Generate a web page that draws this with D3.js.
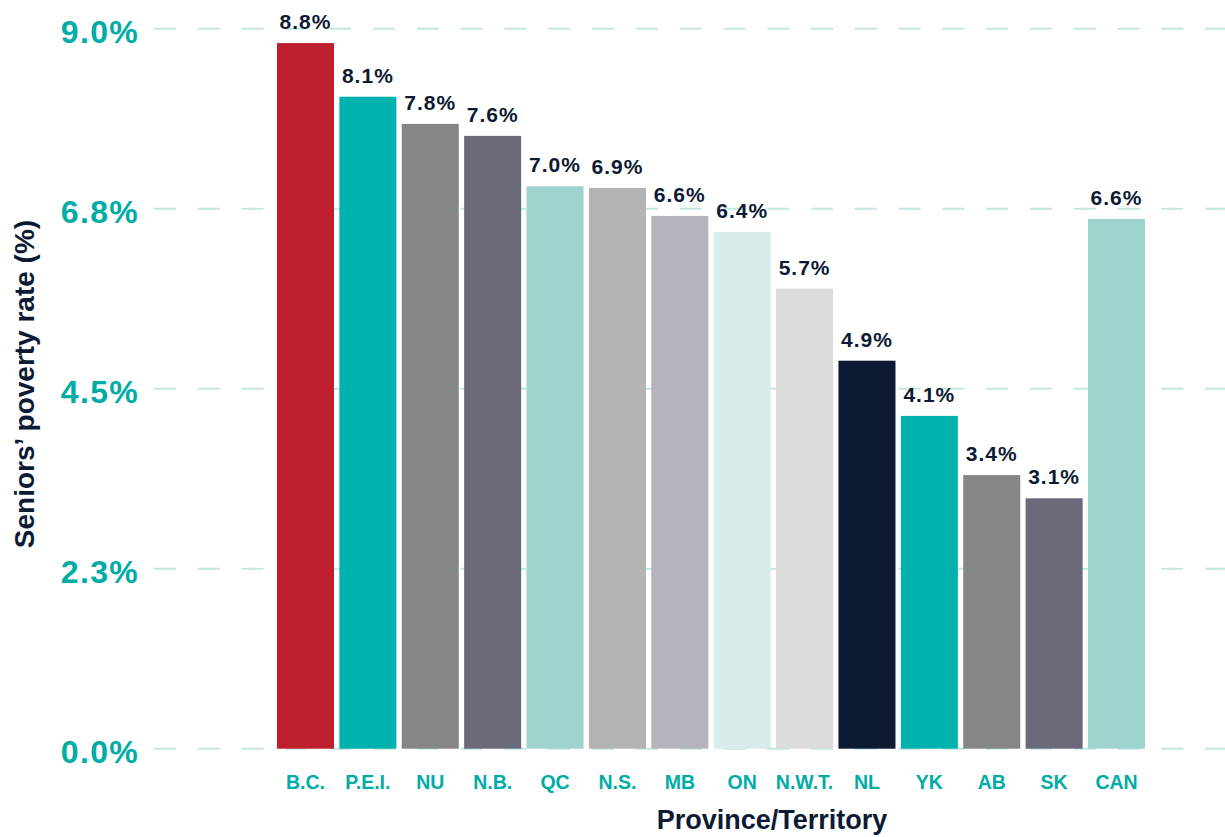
<!DOCTYPE html>
<html lang="en">
<head>
    <meta charset="UTF-8">
    <title>Seniors' poverty rate by province</title>
    <script type="text/javascript" src="https://cdn.jsdelivr.net/npm/d3@7"></script>
    <style type="text/css">
        body { margin: 0; background: #ffffff; }
        text { font-family: "Liberation Sans", Arial, sans-serif; font-weight: bold; }
    </style>
</head>
<body>
<script type="text/javascript">

    //Width and height
    var w = 1225;
    var h = 837;

    // data
    var provinces = ["B.C.", "P.E.I.", "NU", "N.B.", "QC", "N.S.", "MB", "ON",
        "N.W.T.", "NL", "YK", "AB", "SK", "CAN"];
    var rates = [8.82, 8.15, 7.81, 7.66, 7.03, 7.01, 6.66, 6.46,
        5.75, 4.85, 4.16, 3.42, 3.13, 6.62];
    var rateLabels = ["8.8%", "8.1%", "7.8%", "7.6%", "7.0%", "6.9%", "6.6%", "6.4%",
        "5.7%", "4.9%", "4.1%", "3.4%", "3.1%", "6.6%"];
    var barColors = ["#be1e2d", "#00b2ae", "#858688", "#6b6a7a", "#9ed3ce", "#b3b3b3",
        "#b5b4bd", "#d8edeb", "#dcdcdc", "#0c1a33", "#00b2ae", "#858688", "#6b6a7a", "#9ed3ce"];
    var yTicks = [0, 2.25, 4.5, 6.75, 9];

    var teal = "#00aca6";
    var navy = "#0c1a33";

    //Create SVG element
    var svg = d3.select("body")
        .append("svg")
        .attr("width", w)
        .attr("height", h);

    var x = d3.scaleBand()
        .domain(provinces)
        .range([274.3, 1147.7])
        .paddingInner(0.086)
        .paddingOuter(0.043);

    var y = d3.scaleLinear()
        .domain([0, 9])
        .range([748.7, 28.7]);

    // dashed gridlines, behind bars
    svg.selectAll("line.grid")
        .data(yTicks)
        .enter()
        .append("line")
        .attr("class", "grid")
        .attr("x1", 154)
        .attr("x2", w)
        .attr("y1", function(d) { return y(d); })
        .attr("y2", function(d) { return y(d); })
        .attr("stroke", "#c6e6e2")
        .attr("stroke-width", 2)
        .attr("stroke-dasharray", "22,21.8");

    // y tick labels
    svg.selectAll("text.ytick")
        .data(yTicks)
        .enter()
        .append("text")
        .attr("class", "ytick")
        .text(function(d) { return d3.format(".1f")(d) + "%"; })
        .attr("x", 139)
        .attr("y", function(d) { return y(d) + 14; })
        .attr("text-anchor", "end")
        .attr("font-size", "32px")
        .attr("letter-spacing", "1.3px")
        .attr("fill", teal);

    // bars
    svg.selectAll("rect")
        .data(rates)
        .enter()
        .append("rect")
        .attr("x", function(d, i) { return x(provinces[i]); })
        .attr("y", function(d) { return y(d); })
        .attr("width", x.bandwidth())
        .attr("height", function(d) { return y(0) - y(d); })
        .attr("fill", function(d, i) { return barColors[i]; });

    // value labels
    svg.selectAll("text.val")
        .data(rates)
        .enter()
        .append("text")
        .attr("class", "val")
        .text(function(d, i) { return rateLabels[i]; })
        .attr("x", function(d, i) { return x(provinces[i]) + x.bandwidth() / 2; })
        .attr("y", function(d) { return y(d) - 14; })
        .attr("text-anchor", "middle")
        .attr("font-size", "21px")
        .attr("letter-spacing", "1px")
        .attr("fill", navy);

    // category labels
    svg.selectAll("text.cat")
        .data(provinces)
        .enter()
        .append("text")
        .attr("class", "cat")
        .text(function(d) { return d; })
        .attr("x", function(d) { return x(d) + x.bandwidth() / 2; })
        .attr("y", 789)
        .attr("text-anchor", "middle")
        .attr("font-size", "19.5px")
        .attr("fill", teal);

    // axis titles
    svg.append("text")
        .text("Province/Territory")
        .attr("x", 772)
        .attr("y", 829)
        .attr("text-anchor", "middle")
        .attr("font-size", "27px")
        .attr("fill", navy);

    svg.append("text")
        .text("Seniors\u2019 poverty rate (%)")
        .attr("transform", "translate(34,384) rotate(-90)")
        .attr("text-anchor", "middle")
        .attr("font-size", "28px")
        .attr("fill", navy);
</script>
</body>
</html>
